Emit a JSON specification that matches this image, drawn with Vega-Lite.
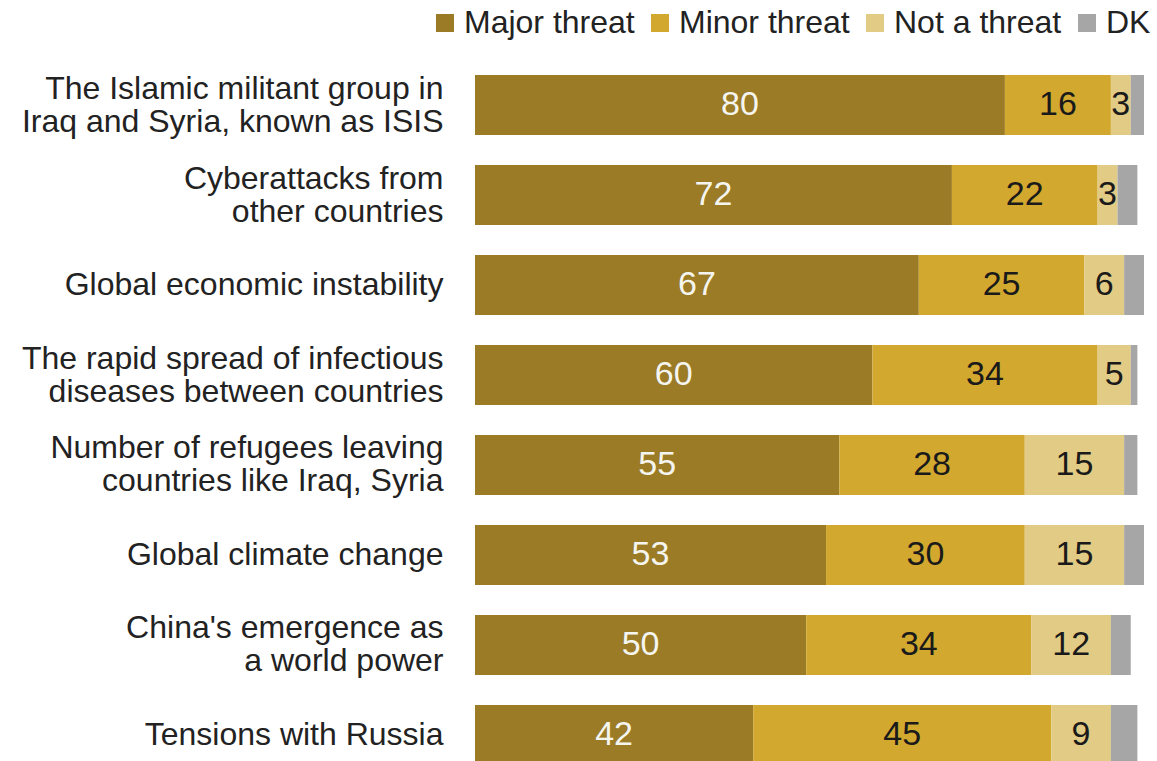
{
  "$schema": "https://vega.github.io/schema/vega-lite/v6.json",
  "autosize": {"type": "none"},
  "padding": {"left": 475, "top": 60, "right": 13, "bottom": 0},
  "width": 669,
  "height": 701,
  "background": "white",
  "config": {"view": {"stroke": null}, "font": "Liberation Sans"},
  "data": {"values": [
    {"item": "The Islamic militant group in|Iraq and Syria, known as ISIS", "r": "Major threat", "k": 1, "v": 80},
    {"item": "The Islamic militant group in|Iraq and Syria, known as ISIS", "r": "Minor threat", "k": 2, "v": 16},
    {"item": "The Islamic militant group in|Iraq and Syria, known as ISIS", "r": "Not a threat", "k": 3, "v": 3},
    {"item": "The Islamic militant group in|Iraq and Syria, known as ISIS", "r": "DK", "k": 4, "v": 2},
    {"item": "Cyberattacks from|other countries", "r": "Major threat", "k": 1, "v": 72},
    {"item": "Cyberattacks from|other countries", "r": "Minor threat", "k": 2, "v": 22},
    {"item": "Cyberattacks from|other countries", "r": "Not a threat", "k": 3, "v": 3},
    {"item": "Cyberattacks from|other countries", "r": "DK", "k": 4, "v": 3},
    {"item": "Global economic instability", "r": "Major threat", "k": 1, "v": 67},
    {"item": "Global economic instability", "r": "Minor threat", "k": 2, "v": 25},
    {"item": "Global economic instability", "r": "Not a threat", "k": 3, "v": 6},
    {"item": "Global economic instability", "r": "DK", "k": 4, "v": 3},
    {"item": "The rapid spread of infectious|diseases between countries", "r": "Major threat", "k": 1, "v": 60},
    {"item": "The rapid spread of infectious|diseases between countries", "r": "Minor threat", "k": 2, "v": 34},
    {"item": "The rapid spread of infectious|diseases between countries", "r": "Not a threat", "k": 3, "v": 5},
    {"item": "The rapid spread of infectious|diseases between countries", "r": "DK", "k": 4, "v": 1},
    {"item": "Number of refugees leaving|countries like Iraq, Syria", "r": "Major threat", "k": 1, "v": 55},
    {"item": "Number of refugees leaving|countries like Iraq, Syria", "r": "Minor threat", "k": 2, "v": 28},
    {"item": "Number of refugees leaving|countries like Iraq, Syria", "r": "Not a threat", "k": 3, "v": 15},
    {"item": "Number of refugees leaving|countries like Iraq, Syria", "r": "DK", "k": 4, "v": 2},
    {"item": "Global climate change", "r": "Major threat", "k": 1, "v": 53},
    {"item": "Global climate change", "r": "Minor threat", "k": 2, "v": 30},
    {"item": "Global climate change", "r": "Not a threat", "k": 3, "v": 15},
    {"item": "Global climate change", "r": "DK", "k": 4, "v": 3},
    {"item": "China's emergence as|a world power", "r": "Major threat", "k": 1, "v": 50},
    {"item": "China's emergence as|a world power", "r": "Minor threat", "k": 2, "v": 34},
    {"item": "China's emergence as|a world power", "r": "Not a threat", "k": 3, "v": 12},
    {"item": "China's emergence as|a world power", "r": "DK", "k": 4, "v": 3},
    {"item": "Tensions with Russia", "r": "Major threat", "k": 1, "v": 42},
    {"item": "Tensions with Russia", "r": "Minor threat", "k": 2, "v": 45},
    {"item": "Tensions with Russia", "r": "Not a threat", "k": 3, "v": 9},
    {"item": "Tensions with Russia", "r": "DK", "k": 4, "v": 4}
  ]},
  "encoding": {
    "y": {
      "field": "item", "type": "nominal", "sort": null, "title": null,
      "scale": {"range": [0, 720], "paddingInner": 0.3333, "paddingOuter": 0.1667},
      "axis": {
        "domain": false, "ticks": false, "labelPadding": 32,
        "labelFontSize": 32, "labelLineHeight": 33, "labelLimit": 0,
        "labelColor": "#222222", "labelFont": "Liberation Sans",
        "labelOffset": {"condition": {"test": "length(datum.value) > 30", "value": -16.5}, "value": 0},
        "labelExpr": "split(datum.label, '|')"
      }
    },
    "x": {
      "field": "v", "type": "quantitative", "stack": "zero",
      "scale": {"domain": [0, 101], "nice": false}, "axis": null
    },
    "order": {"field": "k", "type": "quantitative"}
  },
  "layer": [
    {
      "mark": {"type": "bar", "clip": false},
      "encoding": {
        "color": {
          "field": "r", "type": "nominal", "title": null,
          "scale": {
            "domain": ["Major threat", "Minor threat", "Not a threat", "DK"],
            "range": ["#9B7B25", "#D3A82F", "#E2CB84", "#A6A6A6"]
          },
          "legend": {
            "orient": "none", "direction": "horizontal", "legendX": -46, "legendY": -53,
            "symbolType": "square", "symbolSize": 324, "symbolStrokeWidth": 0, "symbolOpacity": 1,
            "labelFontSize": 32, "labelColor": "#222222", "labelOffset": 3,
            "columnPadding": 9, "labelLimit": 0, "labelFont": "Liberation Sans"
          }
        }
      }
    },
    {
      "transform": [{"filter": "datum.r !== 'DK'"}],
      "mark": {"type": "text", "fontSize": 34, "font": "Liberation Sans", "baseline": "middle", "align": "center"},
      "encoding": {
        "x": {"field": "v", "type": "quantitative", "stack": "zero", "bandPosition": 0.5},
        "text": {"field": "v", "type": "quantitative"},
        "color": {"condition": {"test": "datum.r === 'Major threat'", "value": "#F5F5F0"}, "value": "#1A1A1A"}
      }
    }
  ]
}
